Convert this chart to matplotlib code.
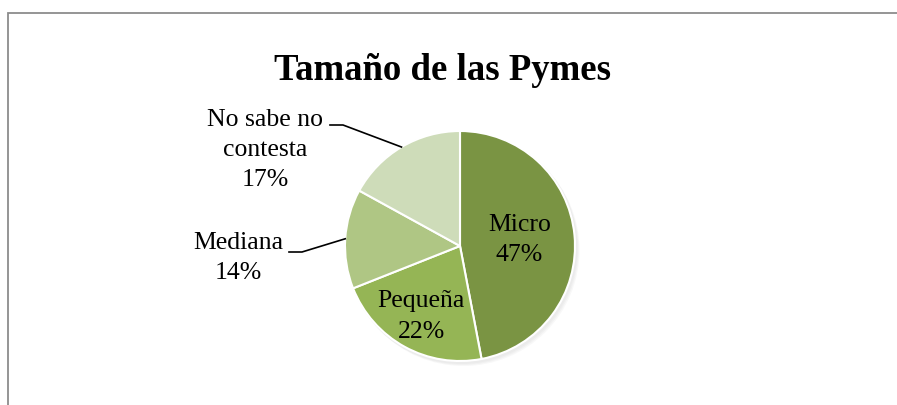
import numpy as np
import matplotlib
matplotlib.use("Agg")
import matplotlib.pyplot as plt
from matplotlib.patches import Circle

title = "Tamaño de las Pymes"
categories = ["Micro", "Pequeña", "Mediana", "No sabe no\ncontesta"]
values = [47, 22, 14, 17]
colors = ["#7A9443", "#95B555", "#AFC684", "#CEDCB9"]

plt.rcParams["font.family"] = ["Liberation Serif", "DejaVu Serif"]

W, H = 897, 405
fig = plt.figure(figsize=(W / 100, H / 100), dpi=100)
ax = fig.add_axes([0, 0, 1, 1])
ax.set_xlim(0, W)
ax.set_ylim(0, H)
ax.axis("off")

# chart frame
ax.plot([8, 8, W + 5], [-5, H - 13, H - 13], color="#8C8C8C", lw=1.3,
        solid_joinstyle="miter")

cx, cy, R = 460, H - 246, 115

# soft shadow
for i, a in enumerate([0.05, 0.05, 0.05]):
    ax.add_patch(Circle((cx + 1.5 + i, cy - 2 - i), R + 1, color="#7f7f7f",
                        alpha=a, lw=0, zorder=1))

wedges, _ = ax.pie(values, colors=colors, startangle=90, counterclock=False,
                   center=(cx, cy), radius=R, frame=False,
                   wedgeprops=dict(edgecolor="white", linewidth=1.5, zorder=2))
ax.set_xlim(0, W)
ax.set_ylim(0, H)
ax.set_aspect("auto")

fs = 18.5
ls = 1.48
# inside labels
inside = {0: 0.52, 1: 0.70}
for i, frac in inside.items():
    w = wedges[i]
    mid = np.deg2rad((w.theta1 + w.theta2) / 2)
    x = cx + frac * R * np.cos(mid)
    y = cy + frac * R * np.sin(mid)
    ax.text(x, y, f"{categories[i]}\n{values[i]}%", ha="center", va="center",
            fontsize=fs, linespacing=ls, zorder=5)

# outside labels with leader lines (label offset from pie center, elbow)
outside = {3: ((-195, 96), (-117, 121)), 2: ((-222, -12), (-158, -6))}
for i, ((lx, ly), (ex, ey)) in outside.items():
    w = wedges[i]
    mid = np.deg2rad((w.theta1 + w.theta2) / 2)
    px = cx + R * np.cos(mid)
    py = cy + R * np.sin(mid)
    ax.plot([cx + ex - 13, cx + ex, px], [cy + ey, cy + ey, py],
            color="black", lw=1.2, zorder=4)
    ax.text(cx + lx, cy + ly, f"{categories[i]}\n{values[i]}%", ha="center",
            va="center", fontsize=fs, linespacing=ls, zorder=5)

ax.text(442, H - 80, title, ha="center", va="baseline", fontsize=26.5,
        fontweight="bold")

fig.savefig("out.png", dpi=100)
